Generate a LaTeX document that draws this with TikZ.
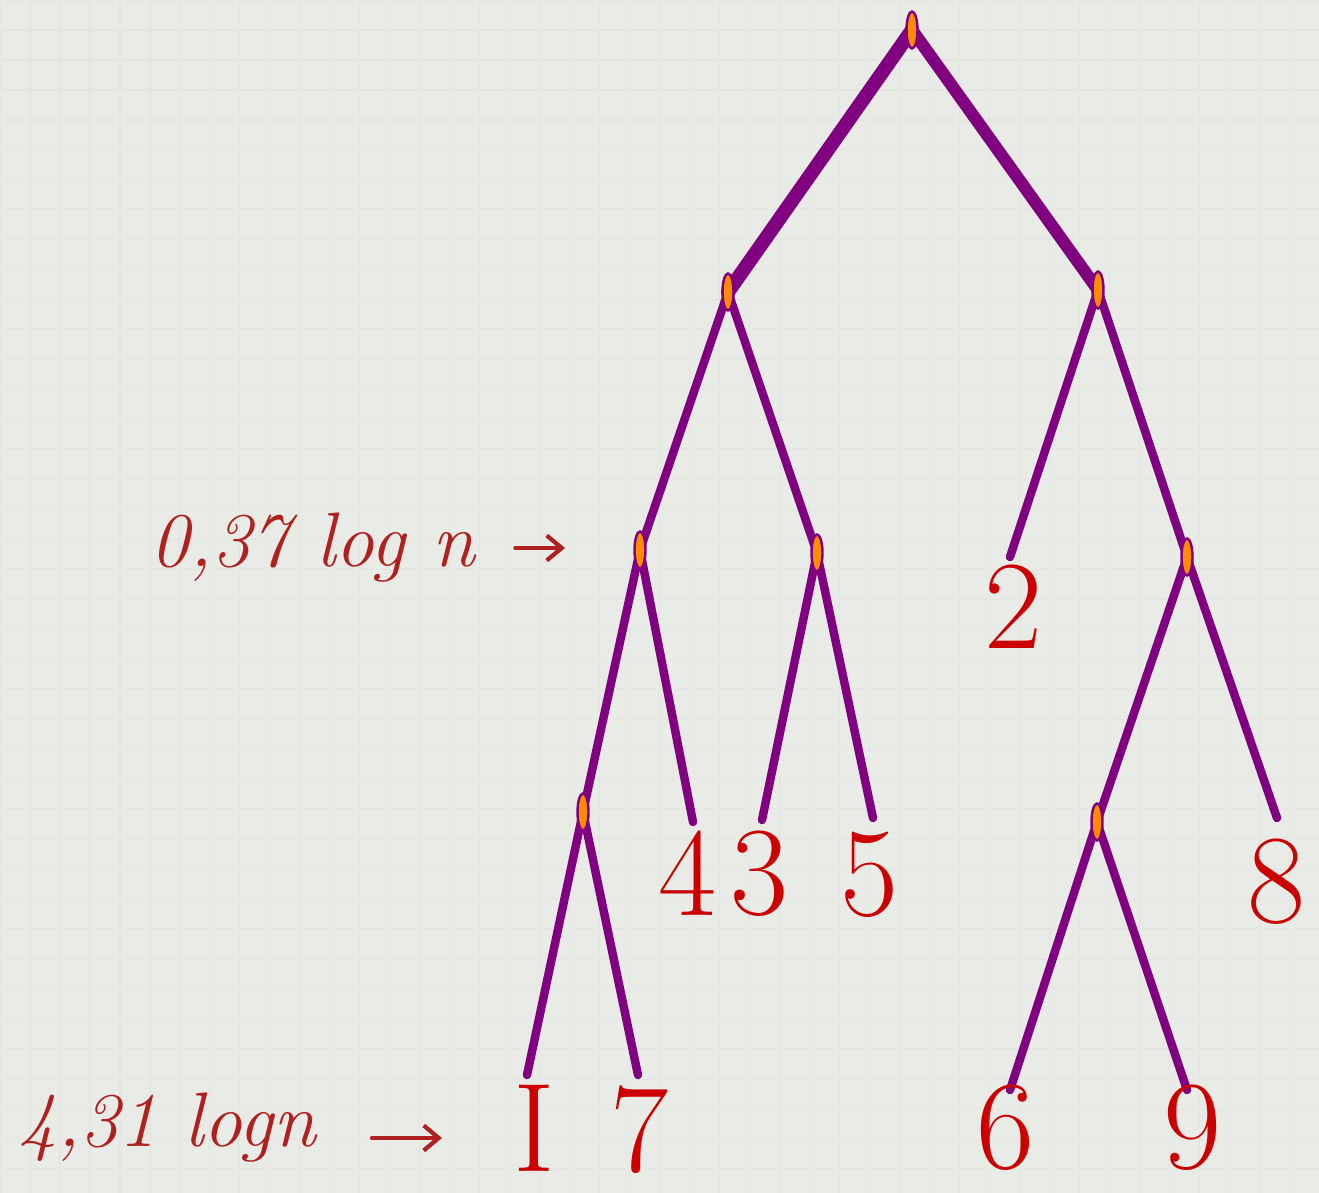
\documentclass[tikz,border=0pt]{standalone}
\usepackage{tikz}
\usetikzlibrary{arrows.meta,shapes.geometric}
\definecolor{paper}{HTML}{E9EBE7}
\definecolor{plaid}{HTML}{E2E5E0}
\definecolor{stem}{HTML}{800080}
\definecolor{knotfill}{HTML}{FF8C00}
\definecolor{digit}{HTML}{CC0000}
\definecolor{ink}{HTML}{B0201E}
\pgfdeclarelayer{paperlayer}
\pgfdeclarelayer{stems}
\pgfsetlayers{paperlayer,stems,main}

\begin{document}
\begin{tikzpicture}[x=0.02cm,y=-0.02cm,
  knot/.style={ellipse,draw=stem,fill=knotfill,line width=1.4pt,minimum width=0.22cm,minimum height=0.74cm,inner sep=0pt},
  br/.style={stem,line width=4.8pt,line cap=round},
  trunk/.style={stem,line width=8pt,line cap=round},
  leaf/.style={text=digit,font=\fontsize{72}{72}\selectfont,inner sep=0pt},
  hand/.style={text=ink,font=\fontsize{44}{44}\selectfont\itshape,inner sep=0pt},
  hx/.style={ink,line width=2.4pt,line cap=round,-{Straight Barb[length=3mm,width=5mm]}}]
  \useasboundingbox (0,0) rectangle (1319,1193);
  \begin{pgfonlayer}{paperlayer}
    \fill[paper] (0,0) rectangle (1319,1193);
    \draw[plaid,line width=0.6pt,step=0.6cm] (0,0) grid (1319,1193);
  \end{pgfonlayer}
  % inner nodes
  \node[knot] (r) at (912,30) {};
  \node[knot] (a) at (728,292) {};
  \node[knot] (b) at (1098,290) {};
  \node[knot] (aa) at (640,550) {};
  \node[knot] (ab) at (817,553) {};
  \node[knot] (bb) at (1187,557) {};
  \node[knot] (aaa) at (583,812) {};
  \node[knot] (bba) at (1097,822) {};
  % leaf tips and keys
  \coordinate (t2) at (1010,557);
  \coordinate (t4) at (693,822);
  \coordinate (t3) at (762,820);
  \coordinate (t5) at (873,818);
  \coordinate (t8) at (1277,818);
  \coordinate (t1) at (527,1075);
  \coordinate (t7) at (638,1075);
  \coordinate (t6) at (1010,1090);
  \coordinate (t9) at (1187,1090);
  \node[leaf] (k2) at (1014,607) {2};
  \node[leaf] (k4) at (688,873) {4};
  \node[leaf] (k3) at (760,874) {3};
  \node[leaf] (k5) at (870,875) {5};
  \node[leaf] (k8) at (1277,882) {8};
  \node[leaf] (k1) at (534,1128) {I};
  \node[leaf] (k7) at (640,1130) {7};
  \node[leaf] (k6) at (1006,1128) {6};
  \node[leaf] (k9) at (1193,1128) {9};
  \begin{pgfonlayer}{stems}
    \draw[trunk] (r.center) -- (a.center);
    \draw[trunk,line width=7pt] (r.center) -- (b.center);
    \draw[br] (a.center) -- (aa.center);
    \draw[br] (a.center) -- (ab.center);
    \draw[br] (b.center) -- (t2);
    \draw[br] (b.center) -- (bb.center);
    \draw[br] (aa.center) -- (aaa.center);
    \draw[br] (aa.center) -- (t4);
    \draw[br] (ab.center) -- (t3);
    \draw[br] (ab.center) -- (t5);
    \draw[br] (bb.center) -- (bba.center);
    \draw[br] (bb.center) -- (t8);
    \draw[br] (aaa.center) -- (t1);
    \draw[br] (aaa.center) -- (t7);
    \draw[br] (bba.center) -- (t6);
    \draw[br] (bba.center) -- (t9);
  \end{pgfonlayer}
  % depth marks
  \node[hand,anchor=west] (d1) at (150,548) {0,37 log n};
  \coordinate (p1) at (565,548);
  \draw[hx,shorten <=0.8cm] (d1.east) -- (p1);
  \node[hand,anchor=west] (d2) at (18,1128) {4,31 logn};
  \coordinate (p2) at (442,1138);
  \draw[hx] (372,1138) -- (p2);
\end{tikzpicture}
\end{document}
